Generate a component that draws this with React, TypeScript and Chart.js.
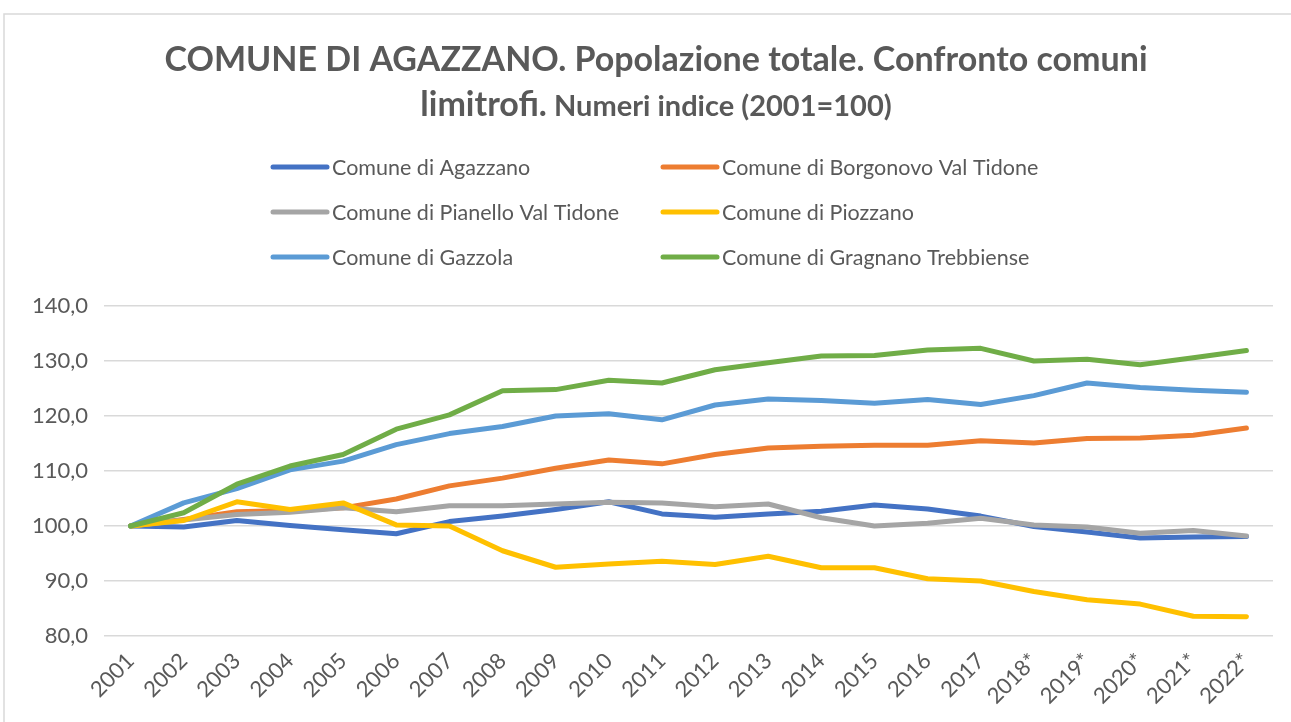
import React, { useEffect, useRef } from "react";
import { Chart, registerables } from "chart.js";

Chart.register(...registerables);

const years = [
  "2001", "2002", "2003", "2004", "2005", "2006", "2007", "2008", "2009", "2010", "2011",
  "2012", "2013", "2014", "2015", "2016", "2017", "2018*", "2019*", "2020*", "2021*", "2022*",
];

const agazzano = [100, 99.8, 101.0, 100.1, 99.3, 98.6, 100.8, 101.8, 103.0, 104.4, 102.2, 101.6, 102.2, 102.7, 103.8, 103.1, 101.8, 99.9, 98.9, 97.8, 98.0, 98.1];
const borgonovo = [100, 101.2, 102.6, 102.8, 103.3, 104.9, 107.3, 108.7, 110.5, 112.0, 111.3, 113.0, 114.2, 114.5, 114.7, 114.7, 115.5, 115.1, 115.9, 116.0, 116.5, 117.8];
const pianello = [100, 101.1, 102.1, 102.5, 103.3, 102.6, 103.7, 103.7, 104.0, 104.3, 104.2, 103.5, 104.0, 101.5, 100.0, 100.5, 101.4, 100.2, 99.8, 98.7, 99.2, 98.2];
const piozzano = [100, 101.0, 104.4, 103.0, 104.2, 100.2, 100.0, 95.5, 92.5, 93.1, 93.6, 93.0, 94.5, 92.4, 92.4, 90.4, 90.0, 88.1, 86.6, 85.8, 83.6, 83.5];
const gazzola = [100, 104.2, 106.8, 110.2, 111.8, 114.8, 116.8, 118.1, 120.0, 120.4, 119.3, 122.0, 123.1, 122.8, 122.3, 123.0, 122.1, 123.7, 126.0, 125.2, 124.7, 124.3];
const gragnano = [100, 102.4, 107.6, 110.9, 113.0, 117.6, 120.2, 124.6, 124.8, 126.5, 126.0, 128.4, 129.7, 130.9, 131.0, 132.0, 132.3, 130.0, 130.3, 129.3, 130.6, 131.9];

const seriesNames = [
  "Comune di Agazzano",
  "Comune di Borgonovo Val Tidone",
  "Comune di Pianello Val Tidone",
  "Comune di Piozzano",
  "Comune di Gazzola",
  "Comune di Gragnano Trebbiense",
];
const seriesValues = [agazzano, borgonovo, pianello, piozzano, gazzola, gragnano];
const seriesColors = ["#4472C4", "#ED7D31", "#A5A5A5", "#FFC000", "#5B9BD5", "#70AD47"];

const titleLine1 = "COMUNE DI AGAZZANO. Popolazione totale. Confronto comuni";
const titleLine2a = "limitrofi.";
const titleLine2b = " Numeri indice (2001=100)";

const FONT = "Lato, 'Open Sans', sans-serif";
const TEXT = "#595959";

const decorPlugin = {
  id: "decor",
  beforeDraw(chart: any) {
    const ctx = chart.ctx;
    ctx.save();
    ctx.fillStyle = "#ffffff";
    ctx.fillRect(0, 0, chart.width, chart.height);
    ctx.strokeStyle = "#d9d9d9";
    ctx.lineWidth = 1.5;
    ctx.strokeRect(4, 14, chart.width + 20, chart.height + 20);
    ctx.restore();
  },
  afterDraw(chart: any) {
    const ctx = chart.ctx;
    ctx.save();
    const cx = 656;
    ctx.fillStyle = TEXT;
    ctx.textBaseline = "middle";
    ctx.textAlign = "left";
    ctx.font = `bold 34px ${FONT}`;
    const w1 = ctx.measureText(titleLine1).width;
    ctx.fillText(titleLine1, cx - w1 / 2, 60);
    const wa = ctx.measureText(titleLine2a).width;
    ctx.font = `bold 29px ${FONT}`;
    const wb = ctx.measureText(titleLine2b).width;
    const start = cx - (wa + wb) / 2;
    ctx.font = `bold 34px ${FONT}`;
    ctx.fillText(titleLine2a, start, 105);
    ctx.font = `bold 29px ${FONT}`;
    ctx.fillText(titleLine2b, start + wa, 107);

    // legend (2 columns x 3 rows)
    const colX = [273, 663];
    const rowY = [167, 212, 257];
    ctx.font = `21.5px ${FONT}`;
    chart.data.datasets.forEach((ds: any, i: number) => {
      const x = colX[i % 2];
      const y = rowY[Math.floor(i / 2)];
      ctx.strokeStyle = ds.borderColor;
      ctx.lineWidth = 5;
      ctx.lineCap = "round";
      ctx.beginPath();
      ctx.moveTo(x, y);
      ctx.lineTo(x + 54, y);
      ctx.stroke();
      ctx.fillStyle = TEXT;
      ctx.fillText(ds.label, x + 59, y + 1);
    });
    ctx.restore();
  },
};

export default function App() {
  const canvasRef = useRef<HTMLCanvasElement | null>(null);

  useEffect(() => {
    if (!canvasRef.current) return;
    const chart = new Chart(canvasRef.current, {
      type: "line",
      data: {
        labels: years,
        datasets: seriesNames.map((name, i) => ({
          label: name,
          data: seriesValues[i],
          borderColor: seriesColors[i],
          backgroundColor: seriesColors[i],
          borderWidth: 5,
          pointRadius: 0,
          pointHoverRadius: 0,
          tension: 0,
          borderCapStyle: "round" as const,
          borderJoinStyle: "round" as const,
          order: seriesNames.length - i,
        })),
      },
      options: {
        animation: false,
        responsive: true,
        maintainAspectRatio: false,
        layout: { padding: { top: 306, right: 18, left: 0, bottom: 0 } },
        plugins: {
          legend: { display: false },
          title: { display: false },
          tooltip: { enabled: false },
        },
        scales: {
          x: {
            type: "category",
            offset: true,
            grid: { display: false },
            border: { display: false },
            ticks: {
              color: TEXT,
              font: { family: FONT, size: 22 },
              minRotation: 45,
              maxRotation: 45,
              autoSkip: false,
              padding: 4,
            },
            afterFit: (scale: any) => {
              scale.height = 86;
            },
          },
          y: {
            min: 80,
            max: 140,
            grid: { color: "#d9d9d9", lineWidth: 1.5, drawTicks: false },
            border: { display: false },
            ticks: {
              stepSize: 10,
              color: TEXT,
              font: { family: FONT, size: 22 },
              padding: 16,
              callback: (v: any) => Number(v).toFixed(1).replace(".", ","),
            },
            afterFit: (scale: any) => {
              scale.width = 104;
            },
          },
        },
      },
      plugins: [decorPlugin],
    });
    return () => chart.destroy();
  }, []);

  return (
    <div style={{ position: "fixed", left: 0, top: 0, width: 1291, height: 722, background: "#fff" }}>
      <canvas ref={canvasRef} />
    </div>
  );
}
